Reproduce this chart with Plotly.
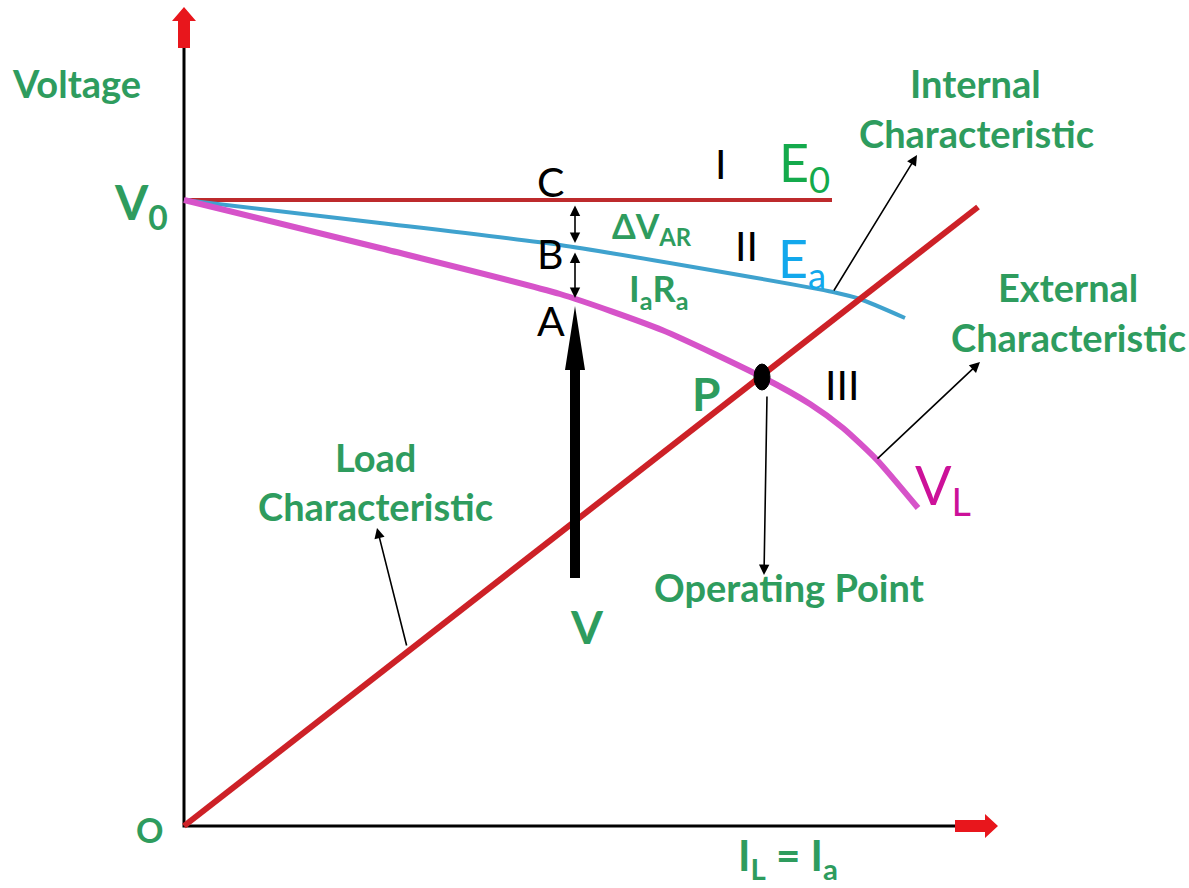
import plotly.graph_objects as go

# Curves, in diagram units (x = current, y = drawn downward from the top)
e0_x = [184, 832]
e0_y = [200, 200]

ea_x = [184, 380, 560, 693, 833, 860, 905]
ea_y = [200, 223, 245, 267, 292, 299, 318]

vl_x = [184, 380, 560, 662, 762, 810, 843, 877, 918]
vl_y = [200, 248, 294, 330, 377, 404, 428, 460, 508]

load_x = [184, 978]
load_y = [826, 207]

op_point = (762, 377)

GREEN = "#2E9C5E"
FONT = "Lato"

fig = go.Figure()

# axes (black lines)
fig.add_trace(go.Scatter(x=[184, 184, 957], y=[48, 826, 826], mode="lines",
                         line=dict(color="black", width=3), hoverinfo="skip"))

fig.add_trace(go.Scatter(x=e0_x, y=e0_y, mode="lines",
                         line=dict(color="#BD2A2C", width=4), hoverinfo="skip"))
fig.add_trace(go.Scatter(x=ea_x, y=ea_y, mode="lines", line_shape="spline",
                         line=dict(color="#3FA2CE", width=4, smoothing=0.6), hoverinfo="skip"))
fig.add_trace(go.Scatter(x=vl_x, y=vl_y, mode="lines", line_shape="spline",
                         line=dict(color="#D653C9", width=6, smoothing=0.6), hoverinfo="skip"))
fig.add_trace(go.Scatter(x=load_x, y=load_y, mode="lines",
                         line=dict(color="#CD2127", width=6), hoverinfo="skip"))

# operating point marker
fig.add_shape(type="circle", x0=op_point[0] - 8, x1=op_point[0] + 8,
              y0=op_point[1] - 13, y1=op_point[1] + 13,
              fillcolor="black", line=dict(color="black", width=1))

# red arrow tips on the axes
fig.add_shape(type="path", path="M178,48 L178,21 L172,21 L184,7 L196,21 L190,21 L190,48 Z",
              fillcolor="#E8161C", line=dict(width=0))
fig.add_shape(type="path", path="M955,820 L985,820 L985,814 L998,826 L985,838 L985,832 L955,832 Z",
              fillcolor="#E8161C", line=dict(width=0))

# big V arrow
fig.add_shape(type="path", path="M570,578 L570,370 L565,370 L575,306 L585,370 L580,370 L580,578 Z",
              fillcolor="black", line=dict(width=0))

# thin pointer arrows: (tip_x, tip_y, tail_x, tail_y, both_ends)
pointers = [
    (917, 155, 833, 292, False),
    (980, 362, 876, 460, False),
    (764, 575, 767, 395, False),
    (377, 528, 407, 647, False),
    (575, 243, 575, 204, True),
    (575, 298, 575, 251, True),
]
for tx, ty, sx, sy, both in pointers:
    fig.add_annotation(x=tx, y=ty, ax=sx, ay=sy, xref="x", yref="y", axref="x", ayref="y",
                       text="", showarrow=True, arrowhead=2, arrowsize=1.3, arrowwidth=1.6,
                       arrowcolor="black", arrowside="end+start" if both else "end")

# labels: (text, x, y, size, color, bold)
labels = [
    ("Voltage", 76, 83, 38, GREEN, True),
    ("V<sub>0</sub>", 141, 205, 48, GREEN, True),
    ("O", 149, 829, 34, GREEN, True),
    ("I<sub>L</sub> = I<sub>a</sub>", 788, 858, 42, GREEN, True),
    ("Internal", 975, 83, 38, GREEN, True),
    ("Characteristic", 976, 133, 38, GREEN, True),
    ("External", 1068, 287, 38, GREEN, True),
    ("Characteristic", 1068, 337, 38, GREEN, True),
    ("Load", 375, 457, 38, GREEN, True),
    ("Characteristic", 375, 506, 38, GREEN, True),
    ("Operating Point", 789, 587, 38, GREEN, True),
    ("P", 706, 393, 46, GREEN, True),
    ("V", 587, 626, 46, GREEN, True),
    ("ΔV<sub>AR</sub>", 652, 228, 34, GREEN, True),
    ("I<sub>a</sub>R<sub>a</sub>", 658, 290, 36, GREEN, True),
    ("C", 550, 181, 41, "black", False),
    ("B", 550, 253, 41, "black", False),
    ("A", 551, 320, 41, "black", False),
    ("I", 720, 163, 41, "black", False),
    ("II", 746, 245, 41, "black", False),
    ("III", 842, 384, 41, "black", False),
    ("E<sub>0</sub>", 804, 166, 52, "#14AA4C", False),
    ("E<sub>a</sub>", 802, 262, 52, "#12A8EC", False),
    ("V<sub>L</sub>", 943, 488, 54, "#CC1199", False),
]
for txt, x, y, size, color, bold in labels:
    fig.add_annotation(x=x, y=y, xref="x", yref="y", text=f"<b>{txt}</b>" if bold else txt,
                       showarrow=False, xanchor="center", yanchor="middle",
                       font=dict(family=FONT, size=size, color=color))

fig.update_layout(
    width=1189, height=888,
    margin=dict(l=0, r=0, t=0, b=0),
    paper_bgcolor="white", plot_bgcolor="white",
    showlegend=False,
    xaxis=dict(range=[0, 1189], visible=False, fixedrange=True),
    yaxis=dict(range=[888, 0], visible=False, fixedrange=True),
)

# drop the page's default body margin so the figure sits at the top-left corner
fig.write_html("out.html", config={"displayModeBar": False},
               post_script="document.body.style.margin='0';")
